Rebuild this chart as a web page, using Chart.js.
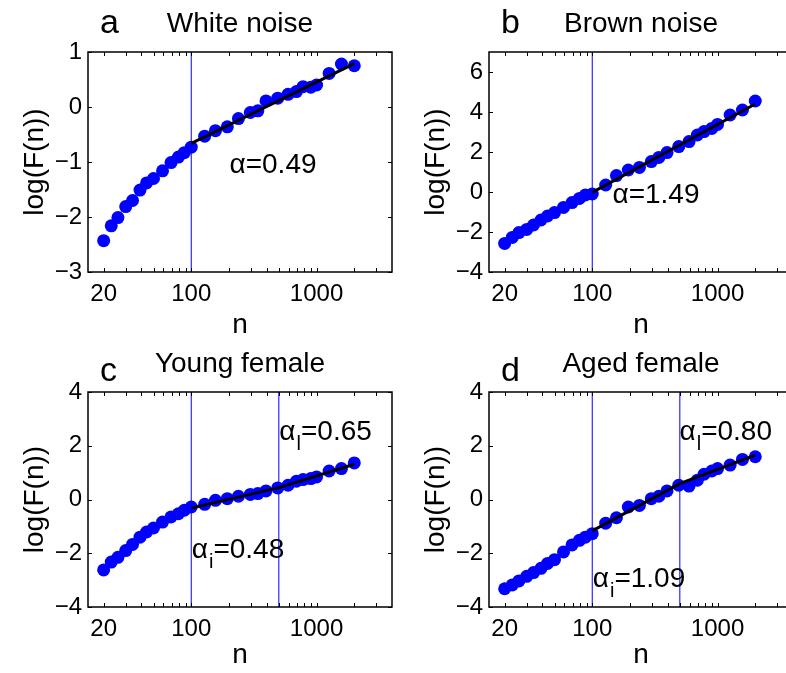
<!DOCTYPE html>
<html>
<head>
<meta charset="utf-8">
<script src="https://cdn.jsdelivr.net/npm/chart.js@4/dist/chart.umd.min.js"></script>
<style>
html, body { margin: 0; padding: 0; background: #fff; overflow: hidden; width: 786px; height: 673px; }
canvas { position: absolute; }
</style>
</head>
<body>
<canvas id="pa"></canvas>
<canvas id="pb"></canvas>
<canvas id="pc"></canvas>
<canvas id="pd"></canvas>
<script>
// window sizes n (shared by all four panels)
var nValues = [20, 23, 26, 30, 34, 39, 44, 50, 59, 69, 79, 88, 100, 128, 156, 194, 238, 296, 340, 395, 490, 592, 690, 780, 900, 1000, 1260, 1580, 2000];

// log(F(n))
var whiteNoise = [-2.43, -2.16, -2.01, -1.81, -1.70, -1.51, -1.38, -1.30, -1.16, -1.01, -0.91, -0.83, -0.73, -0.53, -0.43, -0.36, -0.21, -0.10, -0.07, 0.11, 0.16, 0.23, 0.28, 0.37, 0.36, 0.40, 0.61, 0.78, 0.75];
var brownNoise = [-2.57, -2.27, -2.03, -1.87, -1.65, -1.40, -1.20, -1.03, -0.77, -0.53, -0.32, -0.15, -0.10, 0.35, 0.82, 1.10, 1.23, 1.52, 1.73, 1.97, 2.27, 2.52, 2.85, 3.02, 3.18, 3.38, 3.85, 4.10, 4.55];
var youngFemale = [-2.62, -2.33, -2.15, -1.90, -1.67, -1.40, -1.21, -1.06, -0.84, -0.65, -0.53, -0.40, -0.28, -0.18, -0.03, 0.03, 0.12, 0.19, 0.22, 0.32, 0.43, 0.53, 0.68, 0.74, 0.78, 0.84, 1.06, 1.15, 1.36];
var agedFemale = [-3.32, -3.18, -3.03, -2.86, -2.72, -2.56, -2.38, -2.24, -1.95, -1.69, -1.52, -1.40, -1.27, -0.88, -0.68, -0.28, -0.22, 0.03, 0.12, 0.32, 0.53, 0.50, 0.72, 0.94, 1.06, 1.15, 1.28, 1.49, 1.59];

// fitted lines (n, log F)
var fitWhiteN = [100, 2000], fitWhiteY = [-0.66, 0.79];
var fitBrownN = [100, 2000], fitBrownY = [-0.02, 4.40];
var fitYoungN = [100, 500, 2000], fitYoungY = [-0.32, 0.44, 1.31];
var fitAgedN = [100, 500, 2000], fitAgedY = [-1.17, 0.59, 1.65];

// crossover lines
var breaksOne = [100];
var breaksTwo = [100, 500];

// axis ticks
var xLabelTicks = [20, 100, 1000];
var xTickMarks = [20, 30, 40, 50, 60, 70, 80, 90, 100, 200, 300, 400, 500, 600, 700, 800, 900, 1000, 2000, 3000];
var yTicksWhite = [-3, -2, -1, 0, 1];
var yTicksBrown = [-4, -2, 0, 2, 4, 6];
var yTicksFemale = [-4, -2, 0, 2, 4];

var FONT = 'Liberation Sans, Arial, Helvetica, sans-serif';
Chart.defaults.font.family = FONT;
Chart.defaults.color = '#000';

var toPoints = function(xs, ys) {
  return xs.map(function(x, i) { return { x: x, y: ys[i] }; });
};

var minus = function(v) {
  return v < 0 ? '\u2212' + Math.abs(v) : String(v);
};

// frame, inward ticks, letters, titles and alpha notes
var framePlugin = {
  id: 'frame',
  afterDraw: function(chart, args, opts) {
    var ctx = chart.ctx, a = chart.chartArea;
    var xs = chart.scales.x, ys = chart.scales.y;
    ctx.save();
    ctx.strokeStyle = '#000';
    ctx.lineWidth = 1;
    ctx.beginPath();
    xTickMarks.forEach(function(v) {
      var px = Math.round(xs.getPixelForValue(v)) + 0.5;
      ctx.moveTo(px, a.bottom); ctx.lineTo(px, a.bottom - 4);
      ctx.moveTo(px, a.top); ctx.lineTo(px, a.top + 4);
    });
    ys.ticks.forEach(function(t) {
      var py = Math.round(ys.getPixelForValue(t.value)) + 0.5;
      ctx.moveTo(a.left, py); ctx.lineTo(a.left + 4, py);
      ctx.moveTo(a.right, py); ctx.lineTo(a.right - 4, py);
    });
    ctx.stroke();
    ctx.lineWidth = 1.5;
    ctx.strokeRect(a.left, a.top, a.right - a.left, a.bottom - a.top);

    ctx.fillStyle = '#000';
    ctx.textBaseline = 'alphabetic';
    ctx.font = '34px ' + FONT;
    ctx.textAlign = 'left';
    ctx.fillText(opts.letter, a.left + 12, a.top - opts.letterGap);
    ctx.font = '28px ' + FONT;
    ctx.textAlign = 'center';
    ctx.fillText(opts.title, (a.left + a.right) / 2, a.top - 20);

    ctx.textAlign = 'left';
    opts.notes.forEach(function(note) {
      var x = xs.getPixelForValue(note.n);
      var y = ys.getPixelForValue(note.y);
      ctx.font = '28px ' + FONT;
      ctx.fillText('\u03b1', x, y);
      x += ctx.measureText('\u03b1').width;
      if (note.sub) {
        ctx.font = '20px ' + FONT;
        ctx.fillText(note.sub, x + 1, y + 10);
        x += ctx.measureText(note.sub).width + 1;
        ctx.font = '28px ' + FONT;
      }
      ctx.fillText(note.text, x, y);
    });
    ctx.restore();
  }
};

var panels = [
  { id: 'pa', left: 0, top: 0, plotBottom: 78, nPad: 8, letter: 'a', letterGap: 19, title: 'White noise',
    yMin: -3, yMax: 1, yTicks: yTicksWhite, values: whiteNoise, fitN: fitWhiteN, fitY: fitWhiteY, breaks: breaksOne,
    notes: [{ n: 202, y: -1.2, sub: '', text: '=0.49' }] },
  { id: 'pb', left: 401, top: 0, plotBottom: 78, nPad: 8, letter: 'b', letterGap: 19, title: 'Brown noise',
    yMin: -4, yMax: 7, yTicks: yTicksBrown, values: brownNoise, fitN: fitBrownN, fitY: fitBrownY, breaks: breaksOne,
    notes: [{ n: 145, y: -0.55, sub: '', text: '=1.49' }] },
  { id: 'pc', left: 0, top: 340, plotBottom: 83, nPad: 18, letter: 'c', letterGap: 11, title: 'Young female',
    yMin: -4, yMax: 4, yTicks: yTicksFemale, values: youngFemale, fitN: fitYoungN, fitY: fitYoungY, breaks: breaksTwo,
    notes: [{ n: 505, y: 2.21, sub: 'l', text: '=0.65' }, { n: 101, y: -2.19, sub: 'i', text: '=0.48' }] },
  { id: 'pd', left: 401, top: 340, plotBottom: 83, nPad: 18, letter: 'd', letterGap: 11, title: 'Aged female',
    yMin: -4, yMax: 4, yTicks: yTicksFemale, values: agedFemale, fitN: fitAgedN, fitY: fitAgedY, breaks: breaksTwo,
    notes: [{ n: 497, y: 2.21, sub: 'l', text: '=0.80' }, { n: 101, y: -3.25, sub: 'i', text: '=1.09' }] }
];

panels.forEach(function(p) {
  var canvas = document.getElementById(p.id);
  canvas.width = 400;
  canvas.height = 350;
  canvas.style.left = p.left + 'px';
  canvas.style.top = p.top + 'px';

  var datasets = [
    { data: toPoints(p.fitN, p.fitY), showLine: true, borderColor: '#000', borderWidth: 3,
      pointRadius: 0, order: 0 },
    { data: toPoints(nValues, p.values), showLine: false, pointRadius: 6.5,
      pointBackgroundColor: '#0000ff', pointBorderWidth: 0, order: 1 }
  ];
  p.breaks.forEach(function(b) {
    datasets.push({ data: [{ x: b, y: p.yMin }, { x: b, y: p.yMax }], showLine: true,
      borderColor: '#0000ff', borderWidth: 1, pointRadius: 0, order: 2 });
  });

  new Chart(canvas.getContext('2d'), {
    type: 'scatter',
    data: { datasets: datasets },
    options: {
      responsive: false,
      animation: false,
      layout: { padding: { top: 52, right: 8, left: 0, bottom: 0 } },
      plugins: {
        legend: { display: false },
        tooltip: { enabled: false },
        frame: { letter: p.letter, letterGap: p.letterGap, title: p.title, notes: p.notes }
      },
      scales: {
        x: {
          type: 'logarithmic', min: 15, max: 4000,
          grid: { display: false, drawTicks: false },
          border: { display: false },
          afterBuildTicks: function(scale) {
            scale.ticks = xLabelTicks.map(function(v) { return { value: v }; });
          },
          afterFit: function(scale) { scale.height = p.plotBottom; },
          ticks: { autoSkip: false, maxRotation: 0, padding: 8, font: { size: 24 },
            callback: function(v) { return String(v); } },
          title: { display: true, text: 'n', font: { size: 28 }, padding: { top: 0, bottom: p.nPad } }
        },
        y: {
          min: p.yMin, max: p.yMax,
          grid: { display: false, drawTicks: false },
          border: { display: false },
          afterBuildTicks: function(scale) {
            scale.ticks = p.yTicks.map(function(v) { return { value: v }; });
          },
          afterFit: function(scale) { scale.width = 88; },
          ticks: { padding: 6, font: { size: 24 },
            callback: function(v) { return minus(v); } },
          title: { display: true, text: 'log(F(n))', font: { size: 28 }, padding: { top: 18, bottom: 0 } }
        }
      }
    },
    plugins: [framePlugin]
  });
});
</script>
</body>
</html>
